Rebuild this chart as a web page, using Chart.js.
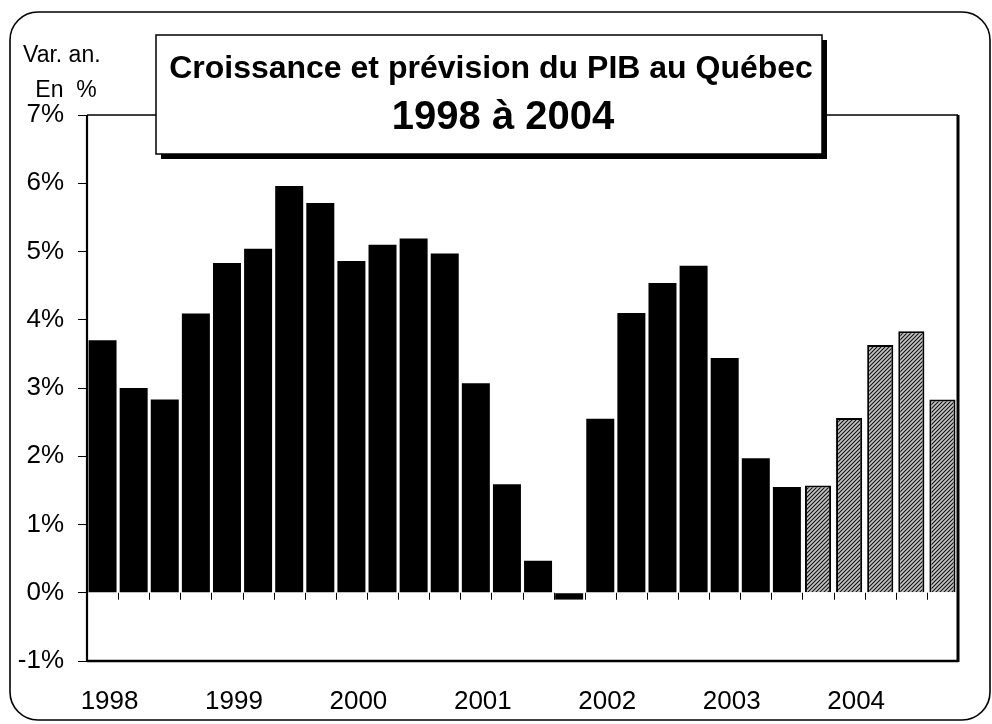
<!DOCTYPE html>
<html lang="fr">
<head>
<meta charset="utf-8">
<title>Croissance et prévision du PIB au Québec</title>
<script src="https://cdn.jsdelivr.net/npm/chart.js@4.4.1/dist/chart.umd.min.js"></script>
<style>
  html, body { margin: 0; padding: 0; background: #fff; }
  #cadre { position: relative; width: 992px; height: 724px; }
</style>
</head>
<body>
<div id="cadre"><canvas id="graphPIB" width="992" height="724"></canvas></div>
<script>
// Données (variation annualisée, en %)
const annees = ['1998', '1999', '2000', '2001', '2002', '2003', '2004'];
const trimestres = annees.flatMap(a => ['T1', 'T2', 'T3', 'T4'].map(t => a + ' ' + t));

// croissance observée (barres noires)
const reel = [3.7, 3.0, 2.83, 4.09,  4.83, 5.04, 5.96, 5.71,  4.86, 5.1, 5.19, 4.97,
              3.07, 1.59, 0.47, -0.1,  2.55, 4.1, 4.54, 4.79,  3.44, 1.97, 1.55, null,
              null, null, null, null];
// prévision (barres hachurées)
const prevision = [null, null, null, null,  null, null, null, null,  null, null, null, null,
                   null, null, null, null,  null, null, null, null,  null, null, null, 1.57,
                   2.56, 3.63, 3.83, 2.83];

const graduations = [-1, 0, 1, 2, 3, 4, 5, 6, 7];

Chart.defaults.font.family = '"Liberation Sans", Arial, Helvetica, sans-serif';
Chart.defaults.color = '#000';

// motif de hachures pour la prévision
function hachures() {
  const c = document.createElement('canvas');
  c.width = 4; c.height = 4;
  const g = c.getContext('2d');
  g.fillStyle = '#c4c4c4';
  g.fillRect(0, 0, 4, 4);
  g.strokeStyle = '#111';
  g.lineWidth = 1.1;
  g.beginPath();
  g.moveTo(0, 4); g.lineTo(4, 0);
  g.moveTo(-1, 1); g.lineTo(1, -1);
  g.moveTo(3, 5); g.lineTo(5, 3);
  g.stroke();
  return g.createPattern(c, 'repeat');
}

// cadres, petites marques sur la ligne du zéro, boîte du titre
const decor = {
  id: 'decor',
  beforeDraw(chart) {
    const ctx = chart.ctx;
    ctx.save();
    ctx.strokeStyle = '#000';
    ctx.lineWidth = 1.6;
    ctx.beginPath();
    ctx.roundRect(10, 12, 980, 708, 28);
    ctx.stroke();
    ctx.restore();
  },
  afterDatasetsDraw(chart) {
    const ctx = chart.ctx;
    const a = chart.chartArea;
    const xs = chart.scales.x;
    const y0 = chart.scales.y.getPixelForValue(0);
    ctx.save();
    ctx.strokeStyle = '#000';
    // marques entre les trimestres
    ctx.lineWidth = 1;
    ctx.beginPath();
    for (let i = 1; i < trimestres.length; i++) {
      const x = Math.round((xs.getPixelForValue(i - 1) + xs.getPixelForValue(i)) / 2) + 0.5;
      ctx.moveTo(x, y0);
      ctx.lineTo(x, y0 + 7);
    }
    ctx.stroke();
    // cadre du graphique
    ctx.lineWidth = 1.5;
    ctx.beginPath(); ctx.moveTo(a.left, a.top); ctx.lineTo(a.right, a.top); ctx.stroke();
    ctx.lineWidth = 2.2;
    ctx.beginPath(); ctx.moveTo(a.left, a.top); ctx.lineTo(a.left, a.bottom); ctx.stroke();
    ctx.lineWidth = 2.5;
    ctx.beginPath(); ctx.moveTo(a.left, a.bottom); ctx.lineTo(a.right, a.bottom); ctx.stroke();
    ctx.lineWidth = 3;
    ctx.beginPath(); ctx.moveTo(a.right, a.top); ctx.lineTo(a.right, a.bottom + 1); ctx.stroke();
    ctx.restore();
  },
  afterDraw(chart) {
    const ctx = chart.ctx;
    ctx.save();
    // boîte du titre avec ombre
    ctx.fillStyle = '#000';
    ctx.fillRect(161, 40, 666, 119);
    ctx.fillStyle = '#fff';
    ctx.fillRect(156, 35, 666, 119);
    ctx.strokeStyle = '#000';
    ctx.lineWidth = 1.5;
    ctx.strokeRect(156, 35, 666, 119);

    ctx.fillStyle = '#000';
    ctx.textAlign = 'center';
    ctx.textBaseline = 'alphabetic';
    ctx.font = 'bold 32px "Liberation Sans", Arial, sans-serif';
    ctx.fillText('Croissance et prévision du PIB au Québec', 491, 78);
    ctx.font = 'bold 40px "Liberation Sans", Arial, sans-serif';
    ctx.fillText('1998 à 2004', 503, 129);

    // unité de l'axe
    ctx.font = '23px "Liberation Sans", Arial, sans-serif';
    ctx.textAlign = 'left';
    ctx.fillText('Var. an.', 23, 62);
    ctx.textAlign = 'center';
    ctx.fillText('En  %', 66, 97);
    ctx.restore();
  }
};

const ctx = document.getElementById('graphPIB').getContext('2d');
const graphique = new Chart(ctx, {
  type: 'bar',
  data: {
    labels: trimestres,
    datasets: [
      {
        label: 'Croissance du PIB',
        data: reel,
        backgroundColor: '#000',
        borderWidth: 0,
        barPercentage: 0.9,
        categoryPercentage: 1,
        grouped: false
      },
      {
        label: 'Prévision',
        data: prevision,
        backgroundColor: hachures(),
        borderColor: '#000',
        borderWidth: 2,
        barPercentage: 0.84,
        categoryPercentage: 1,
        grouped: false
      }
    ]
  },
  options: {
    responsive: false,
    animation: false,
    layout: { padding: { top: 115, right: 34, left: 0, bottom: 0 } },
    plugins: {
      legend: { display: false },
      tooltip: { enabled: false }
    },
    scales: {
      x: {
        grid: { display: false },
        border: { display: false },
        ticks: {
          autoSkip: false,
          maxRotation: 0,
          minRotation: 0,
          padding: 17,
          labelOffset: 7,
          font: { size: 26 },
          callback: (v, i) => (i % 4 === 0 ? annees[i / 4] : '')
        },
        afterFit: s => { s.height = 63; }
      },
      y: {
        min: graduations[0],
        max: graduations[graduations.length - 1],
        afterBuildTicks: s => { s.ticks = graduations.map(v => ({ value: v })); },
        ticks: {
          padding: 14,
          font: { size: 26 },
          callback: v => v + '%'
        },
        grid: { drawOnChartArea: false, drawTicks: true, tickLength: 9, color: '#000', lineWidth: 1 },
        border: { display: false },
        afterFit: s => { s.width = 87; }
      }
    }
  },
  plugins: [decor]
});
</script>
</body>
</html>
